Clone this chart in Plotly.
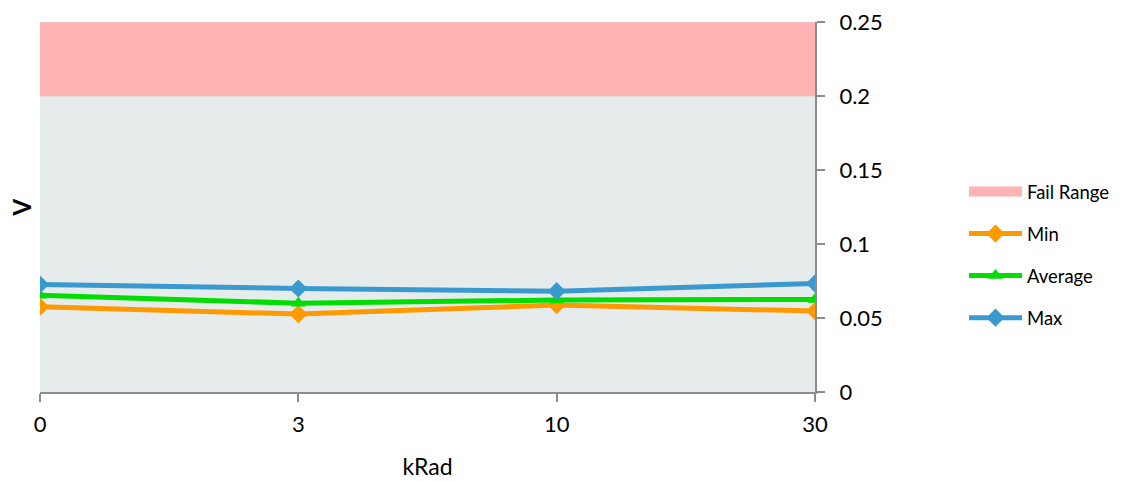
import plotly.graph_objects as go

categories = ["0", "3", "10", "30"]
min_vals = [0.0576, 0.0527, 0.0588, 0.0547]
avg_vals = [0.0655, 0.0600, 0.0622, 0.0626]
max_vals = [0.0727, 0.0700, 0.0682, 0.0734]
fail_low = 0.2
fail_high = 0.25
y_ticks = [0, 0.05, 0.1, 0.15, 0.2, 0.25]

FONT = "Lato"
fig = go.Figure()

# Fail range legend entry (band drawn as a shape)
fig.add_trace(go.Scatter(
    x=[None], y=[None], mode="lines", name="Fail Range",
    line=dict(color="#FFB3B3", width=10), legendgroup="f",
))

series = [
    ("Min", min_vals, "#FF9900", "diamond", 14),
    ("Average", avg_vals, "#00DD00", "triangle-up", 13),
    ("Max", max_vals, "#3A9AD0", "diamond", 14),
]
for name, vals, color, sym, size in series:
    fig.add_trace(go.Scatter(
        x=categories, y=vals, mode="lines+markers", name=name,
        line=dict(color=color, width=5),
        marker=dict(symbol=sym, size=size, color=color),
        legendgroup=name,
    ))

fig.add_shape(type="rect", xref="paper", yref="y", x0=0, x1=1,
              y0=fail_low, y1=fail_high, fillcolor="#FFB3B3",
              line=dict(width=0), layer="below")

fig.add_annotation(text="<b>V</b>", xref="paper", yref="paper",
                   x=-0.0239, y=0.5, xanchor="center", yanchor="middle",
                   showarrow=False, textangle=-90,
                   font=dict(family=FONT, size=24, color="#000"))

fig.update_layout(
    width=1121, height=481,
    margin=dict(l=32, r=314, t=14, b=97),
    paper_bgcolor="white",
    plot_bgcolor="#E6EBEB",
    font=dict(family=FONT, size=22, color="#000"),
    showlegend=True,
    legend=dict(xref="container", yref="container",
                x=0.8528, y=0.657, xanchor="left", yanchor="top",
                font=dict(family=FONT, size=18.5, color="#000"),
                traceorder="grouped", tracegroupgap=15,
                bgcolor="rgba(0,0,0,0)", itemwidth=53, borderwidth=0),
    xaxis=dict(
        type="category", range=[0, 3], showgrid=False, zeroline=False,
        showline=True, linecolor="#8C8C8C", linewidth=2,
        ticks="outside", ticklen=8, tickcolor="#8C8C8C", tickwidth=2,
        tickfont=dict(family=FONT, size=22), ticklabelstandoff=4,
        automargin=False,
        title=dict(text="kRad", font=dict(family=FONT, size=23), standoff=22),
    ),
    yaxis=dict(
        side="right", range=[0, 0.2502], tickvals=y_ticks,
        showgrid=False, zeroline=False,
        showline=True, linecolor="#8C8C8C", linewidth=2,
        ticks="outside", ticklen=8, tickcolor="#8C8C8C", tickwidth=2,
        tickfont=dict(family=FONT, size=22), ticklabelstandoff=10,
        automargin=False,
    ),
)

fig.write_html("out.html")
